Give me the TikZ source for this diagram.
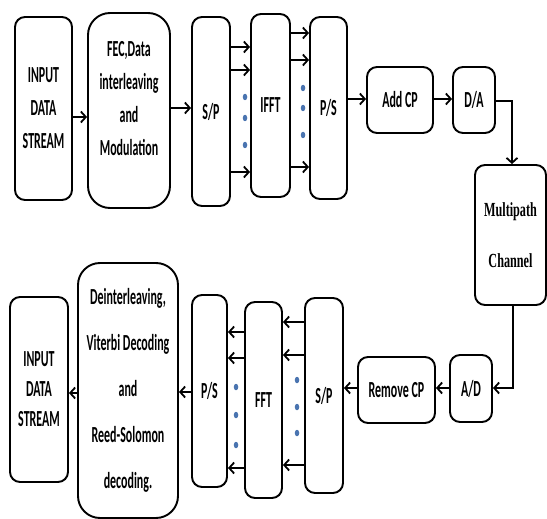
\documentclass[tikz,border=0pt]{standalone}
\usepackage{fontspec}
\setmainfont{Carlito}[FakeStretch=0.52]
\newfontfamily\serifc{Liberation Serif}[FakeStretch=0.61]
\usetikzlibrary{arrows.meta,shapes.geometric}
\definecolor{dotblue}{HTML}{4A74B0}
\begin{document}
\begin{tikzpicture}[x=1pt,y=-1pt,
  box/.style={draw,line width=1.9pt,rounded corners=10pt,align=center,inner sep=0pt,
    font=\fontsize{23}{33}\selectfont\bfseries},
  bigbox/.style={box,rounded corners=22pt},
  txt/.style={align=center,inner sep=0pt,font=\fontsize{23}{33}\selectfont\bfseries},
  arr/.style={line width=2.3pt,-{Straight Barb[length=5pt,width=11pt,line width=1.8pt]}},
  dotmark/.style={ellipse,fill=dotblue,draw=none,inner sep=0pt,minimum width=4.5pt,minimum height=6.5pt}]
\useasboundingbox (0,0) rectangle (547,519);
% top row
\node[box,minimum width=57pt,minimum height=183pt] (in1) at (43.5,108.5) {INPUT\\DATA\\STREAM};
\node[bigbox,minimum width=82pt,minimum height=195pt] (fec) at (129,110.5) {};
\node[txt,yshift=12pt] (fect) at (fec.center) {FEC,Data\\interleaving\\and\\Modulation};
\node[box,minimum width=38pt,minimum height=189pt] (sp1) at (211,111.5) {S/P};
\node[box,minimum width=39pt,minimum height=183pt] (ifft) at (270.5,105.5) {IFFT};
\node[box,minimum width=37pt,minimum height=182pt] (ps1) at (328.5,108) {P/S};
\node[box,minimum width=66pt,minimum height=66pt] (addcp) at (400,100) {Add CP};
\node[box,minimum width=42pt,minimum height=66pt] (da) at (474,100) {D/A};
% channel
\node[box,minimum width=71pt,minimum height=140pt,font=\fontsize{20}{51}\selectfont\bfseries\serifc] (mp) at (510.5,235) {Multipath\\Channel};
% bottom row
\node[box,minimum width=42pt,minimum height=67pt] (ad) at (471,388.5) {A/D};
\node[box,minimum width=77pt,minimum height=66pt] (rcp) at (396.5,390) {Remove CP};
\node[box,minimum width=38pt,minimum height=195pt] (sp2) at (324,395.5) {S/P};
\node[box,minimum width=37pt,minimum height=196pt] (fft) at (263.5,400) {FFT};
\node[box,minimum width=35pt,minimum height=192pt] (ps2) at (209.5,391) {P/S};
\node[bigbox,minimum width=100pt,minimum height=255pt,font=\fontsize{23}{46}\selectfont\bfseries] (deint) at (128,390.5) {Deinterleaving,\\Viterbi Decoding\\and\\Reed-Solomon\\decoding.};
\node[box,minimum width=58pt,minimum height=185pt,font=\fontsize{23}{30}\selectfont\bfseries] (in2) at (39,389.5) {INPUT\\DATA\\STREAM};
% top connectors
\draw[arr] (in1.east |- 0,117) -- (fec.west |- 0,117);
\draw[arr] (fec.east |- 0,108) -- (sp1.west |- 0,108);
\foreach \yy in {47,70,172} \draw[arr] (sp1.east |- 0,\yy) -- (ifft.west |- 0,\yy);
\foreach \yy in {33,60,167} \draw[arr] (ifft.east |- 0,\yy) -- (ps1.west |- 0,\yy);
\draw[arr] (ps1.east |- 0,99) -- (addcp.west |- 0,99);
\draw[arr] (addcp.east |- 0,99) -- (da.west |- 0,99);
\coordinate (c1) at (512,101);
\draw[arr] (da.east |- c1) -- (c1) -- (mp.north -| c1);
\coordinate (c2) at (513,388);
\draw[arr] (mp.south -| c2) -- (c2) -- (ad.east |- c2);
% bottom connectors
\draw[arr] (ad.west |- 0,388) -- (rcp.east |- 0,388);
\draw[arr] (rcp.west |- 0,388) -- (sp2.east |- 0,388);
\foreach \yy in {322,355,465} \draw[arr] (sp2.west |- 0,\yy) -- (fft.east |- 0,\yy);
\foreach \yy in {332,358,468} \draw[arr] (fft.west |- 0,\yy) -- (ps2.east |- 0,\yy);
\draw[arr] (ps2.west |- 0,392) -- (deint.east |- 0,392);
\draw[arr] (deint.west |- 0,393) -- (in2.east |- 0,393);
% dots
\foreach \yy [count=\i] in {97,118,145} \node[dotmark] (da\i) at (245,\yy) {};
\foreach \yy [count=\i] in {88,108,135} \node[dotmark] (db\i) at (303,\yy) {};
\foreach \yy [count=\i] in {380,407,433} \node[dotmark] (dc\i) at (297,\yy) {};
\foreach \yy [count=\i] in {387,415,445} \node[dotmark] (dd\i) at (236,\yy) {};
\end{tikzpicture}
\end{document}
